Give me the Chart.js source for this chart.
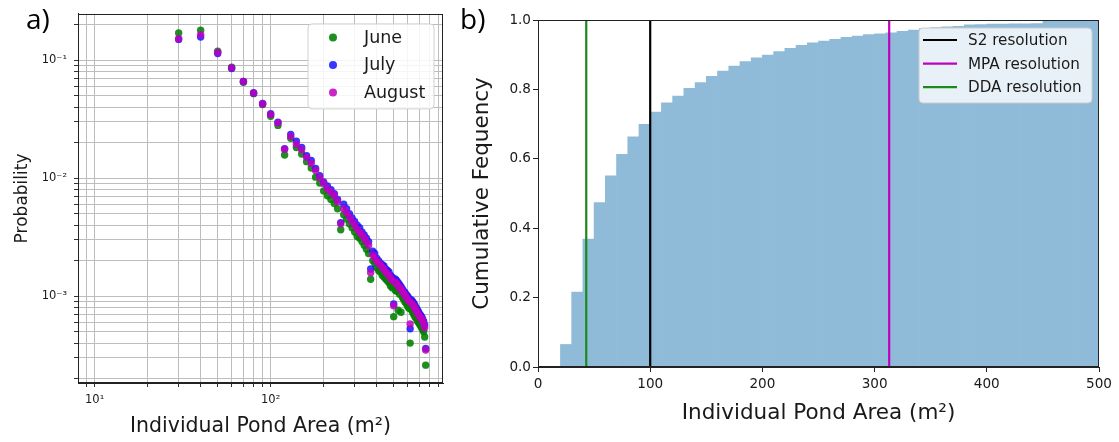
<!DOCTYPE html>
<html><head><meta charset="utf-8">
<script src="https://cdn.jsdelivr.net/npm/chart.js@4.4.0/dist/chart.umd.min.js"></script>
<style>
html,body{margin:0;padding:0;background:#fff;width:1119px;height:442px;overflow:hidden;}
#wa{position:absolute;left:0;top:0;width:465px;height:442px;}
#wb{position:absolute;left:460px;top:0;width:659px;height:442px;}
.lab{position:absolute;font-family:'Open Sans',sans-serif;font-size:28px;color:#000;line-height:1;}
</style></head><body>
<div id="wa"><canvas id="ca" width="465" height="442"></canvas></div>
<div id="wb"><canvas id="cb" width="659" height="442"></canvas></div>
<div class="lab" style="left:26px;top:4px">a)</div>
<div class="lab" style="left:460px;top:4px">b)</div>
<script>
// ---------- panel a) data ----------
const pondArea = [30,40,50,60,70,80,90,100,110,120,130,140,150,160,170,180,190,200,210,220,230,240,250,260,270,280,290,300,310,320,330,340,350,360,370,380,390,400,410,420,430,440,450,460,470,480,490,500,510,520,530,540,550,560,570,580,590,600,610,620,630,640,650,660,670,680,690,700,710,720,730,740,750,760];
const juneProb = [0.170,0.179,0.119,0.087,0.065,0.052,0.042,0.0335,0.0280,0.0157,0.0218,0.0182,0.0160,0.0138,0.0122,0.0102,0.0091,0.0078,0.0071,0.0066,0.0061,0.0055,0.00365,0.0049,0.0045,0.0041,0.0038,0.0035,0.0032,0.0031,0.0029,0.0027,0.0025,0.0023,0.00139,0.0020,0.0019,0.00175,0.00165,0.0016,0.0015,0.00145,0.0014,0.00135,0.0013,0.00122,0.00118,0.00067,0.00112,0.0011,0.00076,0.00104,0.00073,0.00098,0.00093,0.00089,0.00086,0.00082,0.00079,0.00040,0.00077,0.00073,0.0007,0.00067,0.00065,0.00062,0.0006,0.00058,0.00056,0.00054,0.00052,0.00050,0.00045,0.00026];
const julyProb = [0.150,0.157,0.114,0.085,0.066,0.053,0.043,0.0352,0.0298,0.0178,0.0235,0.0206,0.0182,0.0155,0.0141,0.0121,0.0105,0.0093,0.0086,0.0080,0.0074,0.0066,0.0042,0.0060,0.0055,0.0050,0.0046,0.0043,0.0040,0.0038,0.0035,0.0033,0.0031,0.0029,0.0017,0.0024,0.0023,0.0021,0.0020,0.0019,0.00185,0.0018,0.0017,0.00165,0.0016,0.0015,0.00145,0.00086,0.0014,0.00135,0.0013,0.00125,0.0012,0.00115,0.0011,0.00107,0.00103,0.001,0.00096,0.00053,0.00093,0.0009,0.00087,0.00084,0.0008,0.00077,0.00074,0.00071,0.00069,0.00067,0.00064,0.00061,0.00057,0.00036];
const augustProb = [0.152,0.164,0.116,0.086,0.066,0.0525,0.0425,0.0346,0.0294,0.0175,0.0226,0.0194,0.0174,0.0150,0.0133,0.0116,0.0101,0.0090,0.0081,0.0076,0.0071,0.0063,0.0041,0.0055,0.0051,0.0047,0.0043,0.0040,0.0037,0.0035,0.0033,0.0031,0.0029,0.0027,0.00158,0.00225,0.0021,0.0020,0.0019,0.00185,0.00175,0.0017,0.0016,0.00155,0.0015,0.00142,0.00136,0.00083,0.00132,0.00128,0.00122,0.00118,0.00115,0.0011,0.00106,0.00102,0.00098,0.00094,0.00091,0.00058,0.00088,0.00085,0.00082,0.00079,0.00076,0.00072,0.0007,0.00068,0.00066,0.00064,0.00062,0.00058,0.00054,0.00035];
const monthNames = ['June','July','August'];
const areaTickValues = [10,100];
const areaTickLabels = ['10\u00B9','10\u00B2'];
const probTickValues = [0.1,0.01,0.001];
const probTickLabels = ['10\u207B\u00B9','10\u207B\u00B2','10\u207B\u00B3'];

// ---------- panel b) data ----------
const binLeft = [20,30,40,50,60,70,80,90,100,110,120,130,140,150,160,170,180,190,200,210,220,230,240,250,260,270,280,290,300,310,320,330,340,350,360,370,380,390,400,410,420,430,440,450,460,470,480,490];
const cumFrequency = [0.065,0.216,0.369,0.474,0.551,0.613,0.663,0.699,0.735,0.761,0.781,0.803,0.820,0.838,0.853,0.867,0.880,0.891,0.899,0.909,0.918,0.927,0.934,0.939,0.944,0.950,0.954,0.958,0.960,0.963,0.967,0.971,0.976,0.978,0.980,0.982,0.986,0.987,0.988,0.988,0.989,0.989,0.990,0.996,0.997,0.998,0.998,0.999];
const resolutionNames = ['S2 resolution','MPA resolution','DDA resolution'];
const resolutionArea = [100,313,43];

// ---------- styling ----------
const FONT = "'DejaVu Sans', sans-serif";
const TXT = '#1a1a1a';
const monthColors = ['rgba(0,128,0,0.88)','rgba(20,20,255,0.85)','rgba(191,0,191,0.85)'];
const resColors = ['#000000','#bf00bf','#1a8a1a'];

function logTicks(min, max) {
  const out = [];
  for (let e = Math.floor(Math.log10(min)); e <= Math.ceil(Math.log10(max)); e++) {
    for (let k = 1; k <= 9; k++) {
      const v = k * Math.pow(10, e);
      if (v >= min * 0.999 && v <= max * 1.001) out.push({value: v, major: k === 1});
    }
  }
  return out;
}
function labelFor(v, vals, labs) {
  for (let i = 0; i < vals.length; i++) if (Math.abs(v / vals[i] - 1) < 1e-6) return labs[i];
  return '';
}
function roundRect(ctx, x, y, w, h, r) {
  ctx.beginPath();
  ctx.moveTo(x + r, y); ctx.lineTo(x + w - r, y); ctx.quadraticCurveTo(x + w, y, x + w, y + r);
  ctx.lineTo(x + w, y + h - r); ctx.quadraticCurveTo(x + w, y + h, x + w - r, y + h);
  ctx.lineTo(x + r, y + h); ctx.quadraticCurveTo(x, y + h, x, y + h - r);
  ctx.lineTo(x, y + r); ctx.quadraticCurveTo(x, y, x + r, y); ctx.closePath();
}
const framePlugin = {
  id: 'frame',
  afterDatasetsDraw(chart) {
    const {ctx, chartArea: a} = chart;
    ctx.save(); ctx.strokeStyle = '#222'; ctx.lineWidth = 1;
    ctx.strokeRect(Math.round(a.left) + 0.5, Math.round(a.top) + 0.5, Math.round(a.right - a.left) - 1, Math.round(a.bottom - a.top) - 1);
    ctx.restore();
  }
};

// ---------- chart a ----------
const X_MIN = 8.04, X_MAX = 953, Y_MIN = 1.836e-4, Y_MAX = 0.2466;
const scatterLegend = {
  id: 'scatterLegend',
  afterDraw(chart) {
    const {ctx, chartArea: a} = chart;
    const w = 126, h = 85, x = a.right - 9 - w, y = a.top + 10;
    ctx.save();
    roundRect(ctx, x, y, w, h, 4);
    ctx.fillStyle = 'rgba(255,255,255,0.85)'; ctx.fill();
    ctx.strokeStyle = '#d0d0d0'; ctx.lineWidth = 1; ctx.stroke();
    ctx.font = '17.5px ' + FONT; ctx.textBaseline = 'middle'; ctx.textAlign = 'left';
    chart.data.datasets.forEach((ds, i) => {
      const cy = y + 13.5 + 27.5 * i;
      ctx.beginPath(); ctx.arc(x + 25, cy, 4, 0, Math.PI * 2);
      ctx.fillStyle = ds.backgroundColor; ctx.fill();
      ctx.fillStyle = TXT; ctx.fillText(ds.label, x + 56, cy + 1);
    });
    ctx.restore();
  }
};
const seriesA = [juneProb, julyProb, augustProb];
new Chart(document.getElementById('ca'), {
  type: 'scatter',
  data: {
    datasets: seriesA.map((arr, i) => ({
      label: monthNames[i],
      data: pondArea.map((a, j) => ({x: a, y: arr[j]})),
      backgroundColor: monthColors[i],
      borderWidth: 0, pointRadius: 3.7, pointHoverRadius: 3.7,
      order: 2 - i
    }))
  },
  options: {
    responsive: false, animation: false, devicePixelRatio: 1,
    layout: {padding: {left: 0, right: 22, top: 10, bottom: 0}},
    plugins: {legend: {display: false}, tooltip: {enabled: false}},
    scales: {
      x: {
        type: 'logarithmic', min: X_MIN, max: X_MAX,
        afterBuildTicks: s => { s.ticks = logTicks(X_MIN, X_MAX); },
        afterFit: s => { s.height = 59; },
        grid: {color: '#bdbdbd', lineWidth: 1, tickColor: '#333', tickLength: 4},
        border: {display: true, color: '#222', width: 1},
        ticks: {autoSkip: false, maxRotation: 0, padding: 6, color: TXT, font: {family: FONT, size: 11.5},
          callback: v => labelFor(v, areaTickValues, areaTickLabels)},
        title: {display: true, text: 'Individual Pond Area (m\u00B2)', color: TXT,
          font: {family: FONT, size: 20.5}, padding: {top: 0, bottom: 3}}
      },
      y: {
        type: 'logarithmic', min: Y_MIN, max: Y_MAX,
        afterBuildTicks: s => { s.ticks = logTicks(Y_MIN, Y_MAX); },
        afterFit: s => { s.width = 78; },
        grid: {color: '#bdbdbd', lineWidth: 1, tickColor: '#333', tickLength: 4},
        border: {display: true, color: '#222', width: 1},
        ticks: {autoSkip: false, padding: 7, color: TXT, font: {family: FONT, size: 11.5},
          callback: v => labelFor(v, probTickValues, probTickLabels)},
        title: {display: true, text: 'Probability', color: TXT,
          font: {family: FONT, size: 17}, padding: {top: 12, bottom: 0}}
      }
    }
  },
  plugins: [framePlugin, scatterLegend]
});

// ---------- chart b ----------
const lineLegend = {
  id: 'lineLegend',
  afterDraw(chart) {
    const {ctx, chartArea: a} = chart;
    const w = 173, h = 75, x = a.right - 7 - w, y = a.top + 8;
    ctx.save();
    roundRect(ctx, x, y, w, h, 4);
    ctx.fillStyle = 'rgba(255,255,255,0.8)'; ctx.fill();
    ctx.strokeStyle = '#cccccc'; ctx.lineWidth = 1; ctx.stroke();
    ctx.font = '15.2px ' + FONT; ctx.textBaseline = 'middle'; ctx.textAlign = 'left';
    const lines = chart.data.datasets.filter(d => d.type === 'line');
    lines.forEach((ds, i) => {
      const cy = y + 12 + 23.6 * i;
      ctx.beginPath(); ctx.moveTo(x + 4, cy); ctx.lineTo(x + 38, cy);
      ctx.strokeStyle = ds.borderColor; ctx.lineWidth = 2.2; ctx.stroke();
      ctx.fillStyle = TXT; ctx.fillText(ds.label, x + 49, cy + 1);
    });
    ctx.restore();
  }
};
const binWidth = binLeft[1] - binLeft[0];
new Chart(document.getElementById('cb'), {
  type: 'bar',
  data: {
    datasets: [
      {
        type: 'bar', label: 'cumulative',
        data: binLeft.map((b, i) => ({x: b + binWidth / 2, y: cumFrequency[i]})),
        backgroundColor: '#8fbbd9', borderWidth: 0,
        barPercentage: 1, categoryPercentage: 1, order: 10
      },
      ...resolutionNames.map((n, i) => ({
        type: 'line', label: n,
        data: [{x: resolutionArea[i], y: 0}, {x: resolutionArea[i], y: 1}],
        borderColor: resColors[i], borderWidth: 2.2, pointRadius: 0, fill: false, order: 1
      }))
    ]
  },
  options: {
    responsive: false, animation: false, devicePixelRatio: 1,
    layout: {padding: {left: 0, right: 20, top: 20, bottom: 0}},
    plugins: {legend: {display: false}, tooltip: {enabled: false}},
    scales: {
      x: {
        type: 'linear', min: 0, max: 500, offset: false,
        afterFit: s => { s.height = 75; },
        grid: {display: true, drawOnChartArea: false, offset: false, tickColor: '#222', tickLength: 5},
        border: {display: true, color: '#222', width: 1},
        ticks: {stepSize: 100, maxRotation: 0, padding: 4, color: TXT, font: {family: FONT, size: 13.6},
          callback: v => String(Math.round(v))},
        title: {display: true, text: 'Individual Pond Area (m\u00B2)', color: TXT,
          font: {family: FONT, size: 21.5}, padding: {top: 0, bottom: 16}}
      },
      y: {
        type: 'linear', min: 0, max: 1,
        afterFit: s => { s.width = 78; },
        grid: {display: true, drawOnChartArea: false, tickColor: '#222', tickLength: 5},
        border: {display: true, color: '#222', width: 1},
        ticks: {stepSize: 0.2, padding: 2, color: TXT, font: {family: FONT, size: 13.6},
          callback: v => v.toFixed(1)},
        title: {display: true, text: 'Cumulative Fequency', color: TXT,
          font: {family: FONT, size: 21.5}, padding: {top: 10, bottom: 0}}
      }
    }
  },
  plugins: [framePlugin, lineLegend]
});
</script>
</body></html>
